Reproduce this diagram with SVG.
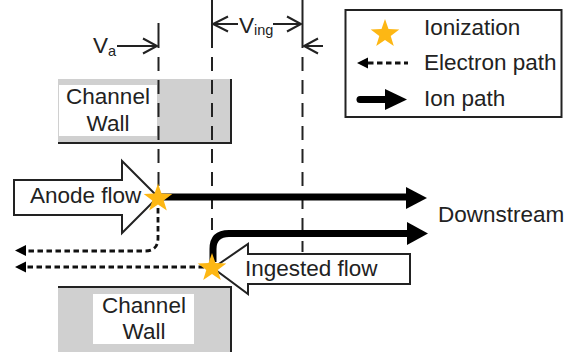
<svg xmlns="http://www.w3.org/2000/svg" width="577" height="356" viewBox="0 0 577 356">
<style>
text{font-family:"Liberation Sans",Arial,sans-serif;font-size:22.5px;fill:#222}
.sub{font-size:14.5px}
.line{fill:none;stroke:#222;stroke-width:2}
.dash{fill:none;stroke:#222;stroke-width:2;stroke-dasharray:14 9}
.edge{fill:none;stroke:#222;stroke-width:2}
.ion{fill:none;stroke:#000;stroke-width:7}
.ehead{fill:#000}
.epath{fill:none;stroke:#111;stroke-width:2.800;stroke-dasharray:5.500 3.500}
.flow{fill:#fff;stroke:#222;stroke-width:2}
.wall{fill:#d0d0d0}
.star{fill:#fdb714}
</style>
<defs>
<polygon id="star" class="star" points="0,-15 3.500,-4.900 14.300,-4.600 5.700,1.900 8.800,12.100 0,6 -8.800,12.100 -5.700,1.900 -14.300,-4.600 -3.500,-4.900"/>
</defs>
<g id="wall-top">
<rect class="wall" x="58" y="79" width="173" height="64"/>
<rect x="59" y="85" width="98" height="51" fill="#fff"/>
<path class="edge" d="M58 143H231V79"/>
<text x="108" y="104" text-anchor="middle">Channel</text>
<text x="108" y="131" text-anchor="middle">Wall</text>
</g>
<g id="wall-bottom">
<rect class="wall" x="58" y="287" width="173" height="65"/>
<rect x="93" y="294" width="101" height="50" fill="#fff"/>
<path class="edge" d="M58 287H231V352"/>
<text x="144" y="313" text-anchor="middle">Channel</text>
<text x="144" y="339" text-anchor="middle">Wall</text>
</g>
<g id="connectors">
<path class="line" d="M158.500 23V48M212 0V48M302.500 0V48"/>
<path class="dash" d="M158.500 57V190"/>
<path class="dash" d="M212 57V230"/>
<path class="dash" d="M302.500 57V252"/>
<path class="line" d="M117 46H157M143 38.500L157 46L143 53.500"/>
<path class="line" d="M238 24H213M228 16.500L213 24L228 31.500"/>
<path class="line" d="M273 24H301M287 16.500L301 24L287 31.500"/>
<path class="line" d="M323 46H304M318 38.500L304 46L318 53.500"/>
<path class="ion" d="M160 197H408"/>
<polygon class="ehead" points="406,187 427,198 406,209"/>
<path class="ion" d="M213 262V249Q213 233.500 229 233.500H409"/>
<polygon class="ehead" points="407,222 428,233.500 407,245"/>
<path class="epath" d="M158 208V238Q158 251 145 251H25"/>
<polygon class="ehead" points="15,250.500 26,245 26,256"/>
<path class="epath" d="M204 267H25"/>
<polygon class="ehead" points="15,267 26,261.500 26,272.500"/>
</g>
<g id="anode-flow">
<polygon class="flow" points="14,180 122,180 122,161 158,197 122,233 122,215 14,215"/>
<text x="30" y="203">Anode flow</text>
</g>
<g id="ingested-flow">
<polygon class="flow" points="410,254 248,254 248,244 213,268 248,294 248,284 410,284"/>
<text x="245" y="276">Ingested flow</text>
</g>
<g id="star-anode"><use href="#star" x="158" y="198.500"/></g>
<g id="star-ingested"><use href="#star" x="212" y="268"/></g>
<g id="label-va"><text x="93" y="53">V<tspan class="sub" dy="3">a</tspan></text></g>
<g id="label-ving"><text x="239" y="33">V<tspan class="sub" dy="2">ing</tspan></text></g>
<g id="label-downstream"><text x="438" y="222">Downstream</text></g>
<g id="legend">
<rect x="345.500" y="10" width="216" height="107" fill="#fff" stroke="#222" stroke-width="2"/>
<use href="#star" x="385" y="34"/>
<path class="epath" d="M368 63H408"/>
<polygon class="ehead" points="357,63 368,57.500 368,68.500"/>
<path d="M360 99.500H392" fill="none" stroke="#000" stroke-width="7" stroke-linecap="round"/>
<polygon class="ehead" points="385,89 407,99.500 385,110"/>
<text x="424" y="35">Ionization</text>
<text x="424" y="70">Electron path</text>
<text x="424" y="106">Ion path</text>
</g>
</svg>
